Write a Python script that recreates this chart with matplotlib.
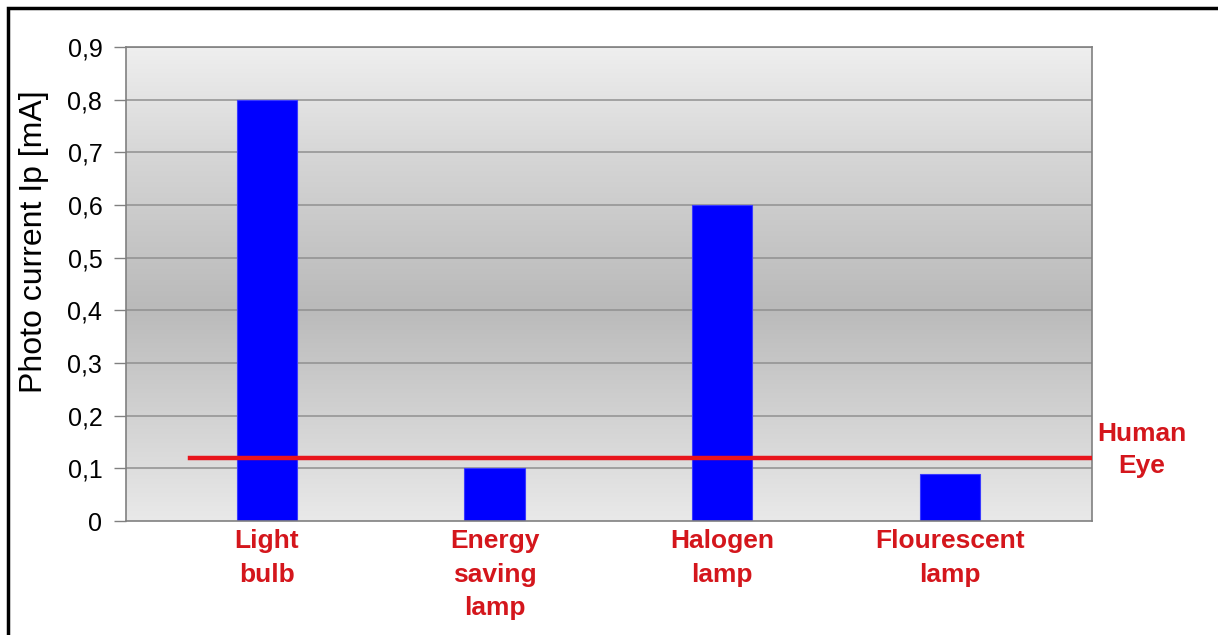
import matplotlib.pyplot as plt
import numpy as np
from matplotlib.colors import LinearSegmentedColormap
from matplotlib.patches import Rectangle
from matplotlib.transforms import blended_transform_factory

plt.rcParams['font.family'] = ['Liberation Sans', 'DejaVu Sans']

categories = ['Light\nbulb', 'Energy\nsaving\nlamp', 'Halogen\nlamp', 'Flourescent\nlamp']
photo_current = [0.80, 0.10, 0.60, 0.09]
human_eye_level = 0.12
y_ticks = [0.0, 0.1, 0.2, 0.3, 0.4, 0.5, 0.6, 0.7, 0.8, 0.9]
y_tick_labels = ['0', '0,1', '0,2', '0,3', '0,4', '0,5', '0,6', '0,7', '0,8', '0,9']

label_red = '#d4161c'

fig = plt.figure(figsize = (12.18, 6.35), dpi = 100)
ax = fig.add_axes([0.1034, 0.1795, 0.7931, 0.7465])

x = np.arange(len(categories))
x_min, x_max = -0.619, 3.624

# grey gradient background of the plot area
background = LinearSegmentedColormap.from_list('bg', [(0.0, '#e9e9e9'), (0.45, '#bababa'),
                                                      (0.75, '#d4d4d4'), (1.0, '#efefef')])
gradient = np.linspace(0, 1, 256).reshape(-1, 1)
ax.imshow(gradient, aspect = 'auto', cmap = background, origin = 'lower',
          extent = [x_min, x_max, 0, 0.9], zorder = 0, interpolation = 'bicubic')

for tick in y_ticks[1:]:
    ax.axhline(y = tick, color = '#909090', linewidth = 1.1, zorder = 1)

ax.bar(x, photo_current, width = 0.264, color = '#0000ff', edgecolor = '#3a3aff',
       linewidth = 0.8, zorder = 2)

ax.axhline(y = human_eye_level, xmin = 0.066, xmax = 1.0, color = '#e8141c',
           linewidth = 3.2, zorder = 3)

trans = blended_transform_factory(ax.transAxes, ax.transData)
ax.text(1.052, human_eye_level + 0.015, 'Human\nEye', transform = trans, ha = 'center', va = 'center',
        color = label_red, fontsize = 19, fontweight = 'bold', linespacing = 1.42)

ax.set_xlim(x_min, x_max)
ax.set_ylim(0, 0.9)

ax.set_yticks(y_ticks)
ax.set_yticklabels(y_tick_labels, fontsize = 18)
ax.set_xticks(x)
ax.set_xticklabels(categories, fontsize = 19, fontweight = 'bold', color = label_red,
                   linespacing = 1.5, va = 'top')
ax.tick_params(axis = 'x', length = 0, pad = 6)
ax.tick_params(axis = 'y', length = 9, width = 1, color = '#808080', pad = 8)

ax.set_ylabel('Photo current Ip [mA]', fontsize = 23)
ax.yaxis.set_label_coords(-0.08, 0.59)

for side in ['left', 'bottom', 'right', 'top']:
    ax.spines[side].set_color('#808080')
    ax.spines[side].set_linewidth(1.2)

# black frame around the whole picture
fig.patches.append(Rectangle((0.0065, -0.05), 1.1, 1.037, transform = fig.transFigure,
                             fill = False, edgecolor = 'black', linewidth = 2.5))

fig.savefig('out.png', dpi = 100)
